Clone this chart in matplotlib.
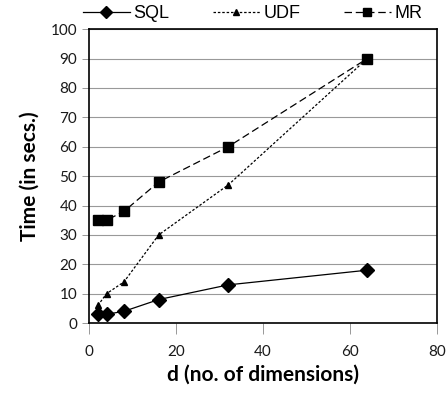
import matplotlib
matplotlib.use("Agg")
import matplotlib.pyplot as plt

d = [2, 4, 8, 16, 32, 64]
sql = [3, 3, 4, 8, 13, 18]
udf = [6, 10, 14, 30, 47, 90]
mr = [35, 35, 38, 48, 60, 90]
xticks = [0, 20, 40, 60, 80]
yticks = list(range(0, 101, 10))

fig = plt.figure(figsize=(4.48, 3.94), dpi=100)
ax = fig.add_axes([0.199, 0.180, 0.776, 0.746])

ax.plot(d, sql, color="black", lw=0.9, ls="-", marker="D", ms=7.5, label="SQL")
ax.plot(d, udf, color="black", lw=0.9, ls=(0, (2, 1.5)), marker="^", ms=5, label="UDF")
ax.plot(d, mr, color="black", lw=0.9, ls=(0, (6, 3)), marker="s", ms=7.5, label="MR")

ax.set_xlim(0, 80)
ax.set_ylim(0, 100)
ax.set_xticks(xticks)
ax.set_yticks(yticks)
ax.yaxis.grid(True, color="#999999", lw=0.8)
ax.set_axisbelow(True)
for s in ax.spines.values():
    s.set_linewidth(1.2)
ax.tick_params(axis="x", direction="out", length=8, width=0.6, colors="#888888", labelcolor="#1a1a1a", labelsize=11, pad=8)
ax.tick_params(axis="y", direction="out", length=5, width=0.6, colors="#888888", labelcolor="#1a1a1a", labelsize=11)
for lab in ax.get_xticklabels() + ax.get_yticklabels():
    lab.set_family("Lato")

ax.set_xlabel("d (no. of dimensions)", fontsize=15, fontweight="bold", family="Lato", labelpad=4)
ax.set_ylabel("Time (in secs.)", fontsize=15, fontweight="bold", family="Lato", labelpad=8)

leg = ax.legend(loc="lower center", bbox_to_anchor=(0.47, 1.0), ncol=3, frameon=False,
                prop={"family": "Liberation Sans", "size": 13}, handlelength=2.6,
                columnspacing=2.4, handletextpad=0.2, borderaxespad=0.0, markerscale=0.85)

fig.savefig("out.png", dpi=100)
